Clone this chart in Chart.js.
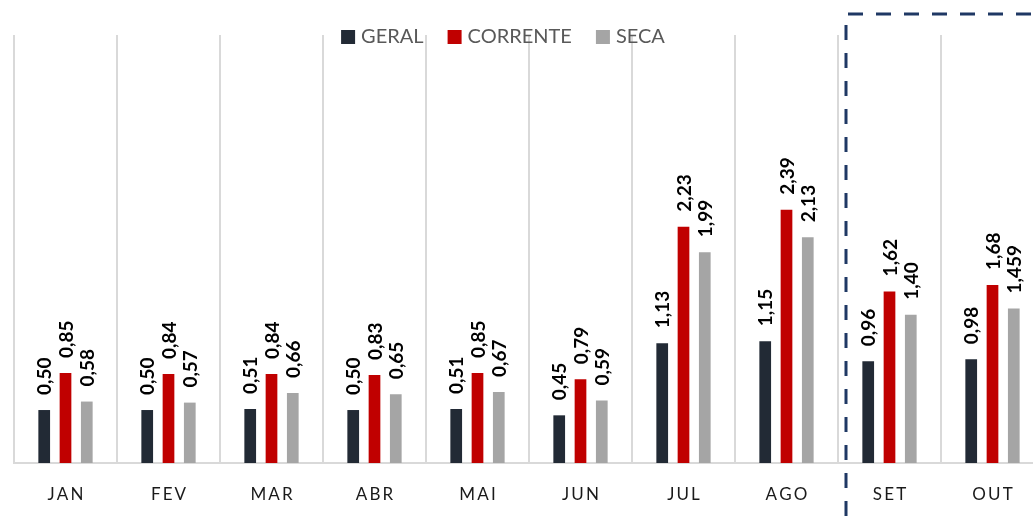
<!DOCTYPE html>
<html>
<head>
<meta charset="utf-8">
<script src="https://cdn.jsdelivr.net/npm/chart.js@4"></script>
<style>
  html, body { margin: 0; padding: 0; background: #fff; overflow: hidden; }
  #wrap { width: 1033px; height: 522px; overflow: hidden; }
</style>
</head>
<body>
<div id="wrap"><canvas id="chart" width="1044" height="522"></canvas></div>
<script>
const months = ['JAN', 'FEV', 'MAR', 'ABR', 'MAI', 'JUN', 'JUL', 'AGO', 'SET', 'OUT'];
const geral = [0.50, 0.50, 0.51, 0.50, 0.51, 0.45, 1.13, 1.15, 0.96, 0.98];
const corrente = [0.85, 0.84, 0.84, 0.83, 0.85, 0.79, 2.23, 2.39, 1.62, 1.68];
const seca = [0.58, 0.57, 0.66, 0.65, 0.67, 0.59, 1.99, 2.13, 1.40, 1.459];

const fmt = v => v.toLocaleString('pt-BR', { minimumFractionDigits: 2, maximumFractionDigits: 3 });

// value labels, rotated, above each bar
const barLabels = {
    id: 'barLabels',
    afterDatasetsDraw(chart) {
        const ctx = chart.ctx;
        chart.data.datasets.forEach((ds, i) => {
            chart.getDatasetMeta(i).data.forEach((bar, j) => {
                ctx.save();
                ctx.translate(bar.x + 1, bar.y - 15);
                ctx.rotate(-Math.PI / 2);
                ctx.textAlign = 'left';
                ctx.textBaseline = 'middle';
                ctx.font = 'bold 19px Lato';
                ctx.fillStyle = '#000';
                ctx.fillText(fmt(ds.data[j]), 0, 0);
                ctx.restore();
            });
        });
    }
};

// legend drawn over the top of the grid + dashed box around SET/OUT
const extras = {
    id: 'extras',
    afterDraw(chart) {
        const ctx = chart.ctx;
        const x = chart.scales.x;

        // dashed box
        const left = (x.getPixelForValue(7) + x.getPixelForValue(8)) / 2 + 8;
        ctx.save();
        ctx.strokeStyle = '#1f3864';
        ctx.lineWidth = 3;
        ctx.setLineDash([15, 13]);
        ctx.beginPath();
        ctx.moveTo(left, 600);
        ctx.lineTo(left, 14);
        ctx.lineTo(1100, 14);
        ctx.stroke();
        ctx.restore();

        // legend
        ctx.save();
        ctx.font = '20px Lato';
        ctx.textBaseline = 'middle';
        const gap = 6, spacing = 24, box = 14;
        const items = chart.data.datasets.map(ds => ({ text: ds.label, color: ds.backgroundColor, w: ctx.measureText(ds.label).width }));
        const total = items.reduce((s, it) => s + box + gap + it.w, 0) + spacing * (items.length - 1);
        let cx = 503 - total / 2;
        items.forEach(it => {
            ctx.fillStyle = it.color;
            ctx.fillRect(cx, 30, box, box);
            ctx.fillStyle = '#595959';
            ctx.fillText(it.text, cx + box + gap, 37);
            cx += box + gap + it.w + spacing;
        });
        ctx.restore();
    }
};

new Chart(document.getElementById('chart'), {
    type: 'bar',
    data: {
        labels: months,
        datasets: [
            { label: 'GERAL', data: geral, backgroundColor: '#222a35' },
            { label: 'CORRENTE', data: corrente, backgroundColor: '#c00000' },
            { label: 'SECA', data: seca, backgroundColor: '#a5a5a5' }
        ]
    },
    options: {
        responsive: false,
        devicePixelRatio: 1,
        animation: false,
        layout: { padding: { left: 14, top: 35, right: 0, bottom: 0 } },
        datasets: {
            bar: { categoryPercentage: 0.62, barPercentage: 0.55 }
        },
        plugins: {
            legend: { display: false },
            tooltip: { enabled: false }
        },
        scales: {
            x: {
                grid: { offset: true, color: '#d9d9d9', lineWidth: 2, drawTicks: false },
                border: { color: '#d9d9d9', width: 2 },
                ticks: {
                    padding: 21,
                    color: '#1a1a1a',
                    font: { family: 'Lato', size: 17 },
                    callback: function (value) {
                        return this.getLabelForValue(value).split('').join('\u2009');
                    }
                },
                afterFit: scale => { scale.height = 59; }
            },
            y: { display: false, min: 0, max: 4.04 }
        }
    },
    plugins: [barLabels, extras]
});
</script>
</body>
</html>
